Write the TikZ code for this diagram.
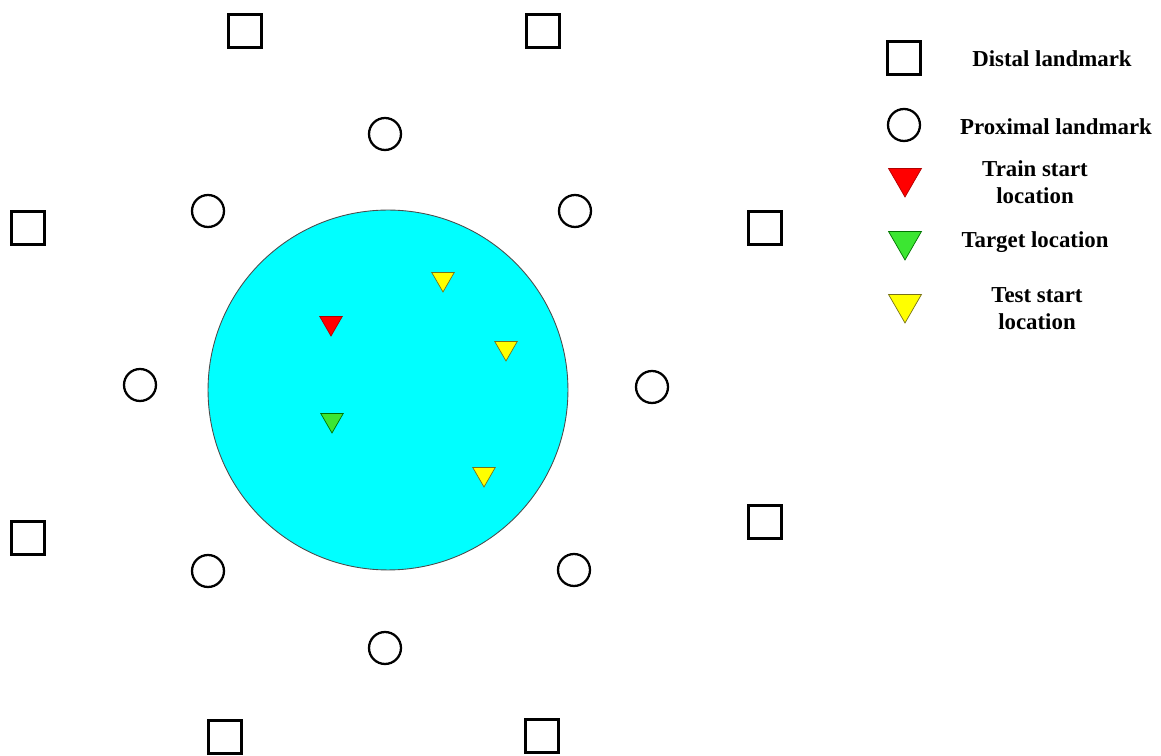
\documentclass[tikz,border=0pt]{standalone}
\usepackage{fontspec}
\setmainfont{Liberation Serif}
\usepackage{xcolor}
\usepackage{tikz}
\usetikzlibrary{shapes.geometric}

\definecolor{poolcyan}{RGB}{0,255,255}
\definecolor{trainred}{RGB}{255,0,0}
\definecolor{targetgreen}{RGB}{60,230,50}
\definecolor{testyellow}{RGB}{255,255,0}

\begin{document}
\begin{tikzpicture}[x=0.02cm,y=-0.02cm,
  distal/.style={draw,line width=1.4pt,minimum size=0.66cm,inner sep=0pt},
  proximal/.style={draw,circle,line width=1.3pt,minimum size=0.64cm,inner sep=0pt},
  tri/.style={regular polygon,regular polygon sides=3,shape border rotate=180,
              inner sep=0pt,minimum size=0.52cm,line width=0.4pt},
  bigtri/.style={tri,minimum size=0.76cm},
  train/.style={fill=trainred,draw=red!70!black},
  target/.style={fill=targetgreen,draw=green!45!black},
  test/.style={fill=testyellow,draw=olive!80!black},
  legtext/.style={font=\fontsize{13}{15.5}\selectfont\bfseries,align=center}]

  \useasboundingbox (0,0) rectangle (1161,756);

  \node[circle,draw=black!70,line width=0.5pt,fill=poolcyan,minimum size=7.2cm] (pool) at (388,390) {};

  \node[distal] (d1) at (245,31)  {};
  \node[distal] (d2) at (543,31)  {};
  \node[distal] (d3) at (28,228)  {};
  \node[distal] (d4) at (765,228) {};
  \node[distal] (d5) at (28,538)  {};
  \node[distal] (d6) at (765,522) {};
  \node[distal] (d7) at (225,737) {};
  \node[distal] (d8) at (542,736) {};

  \node[proximal] (p1) at (385,134) {};
  \node[proximal] (p2) at (208,211) {};
  \node[proximal] (p3) at (575,211) {};
  \node[proximal] (p4) at (140,385) {};
  \node[proximal] (p5) at (652,387) {};
  \node[proximal] (p6) at (208,571) {};
  \node[proximal] (p7) at (574,570) {};
  \node[proximal] (p8) at (385,648) {};

  \node[tri,train]  (tr)  at (331,323) {};
  \node[tri,target] (tg)  at (332,420) {};
  \node[tri,test]   (ts1) at (443,279) {};
  \node[tri,test]   (ts2) at (506,348) {};
  \node[tri,test]   (ts3) at (484,474) {};

  \node[distal]        (ldist) at (904,58)  {};
  \node[proximal]      (lprox) at (904,125) {};
  \node[bigtri,train]  (ltr)   at (905,178) {};
  \node[bigtri,target] (ltg)   at (905,241) {};
  \node[bigtri,test]   (lts)   at (905,304) {};

  \node[legtext] (tdist) at (1052,59)  {Distal landmark};
  \node[legtext] (tprox) at (1056,127) {Proximal landmark};
  \node[legtext] (ttr)   at (1035,182) {Train start\\location};
  \node[legtext] (ttg)   at (1035,242) {Target location};
  \node[legtext] (tts)   at (1037,309) {Test start\\location};

\end{tikzpicture}
\end{document}
